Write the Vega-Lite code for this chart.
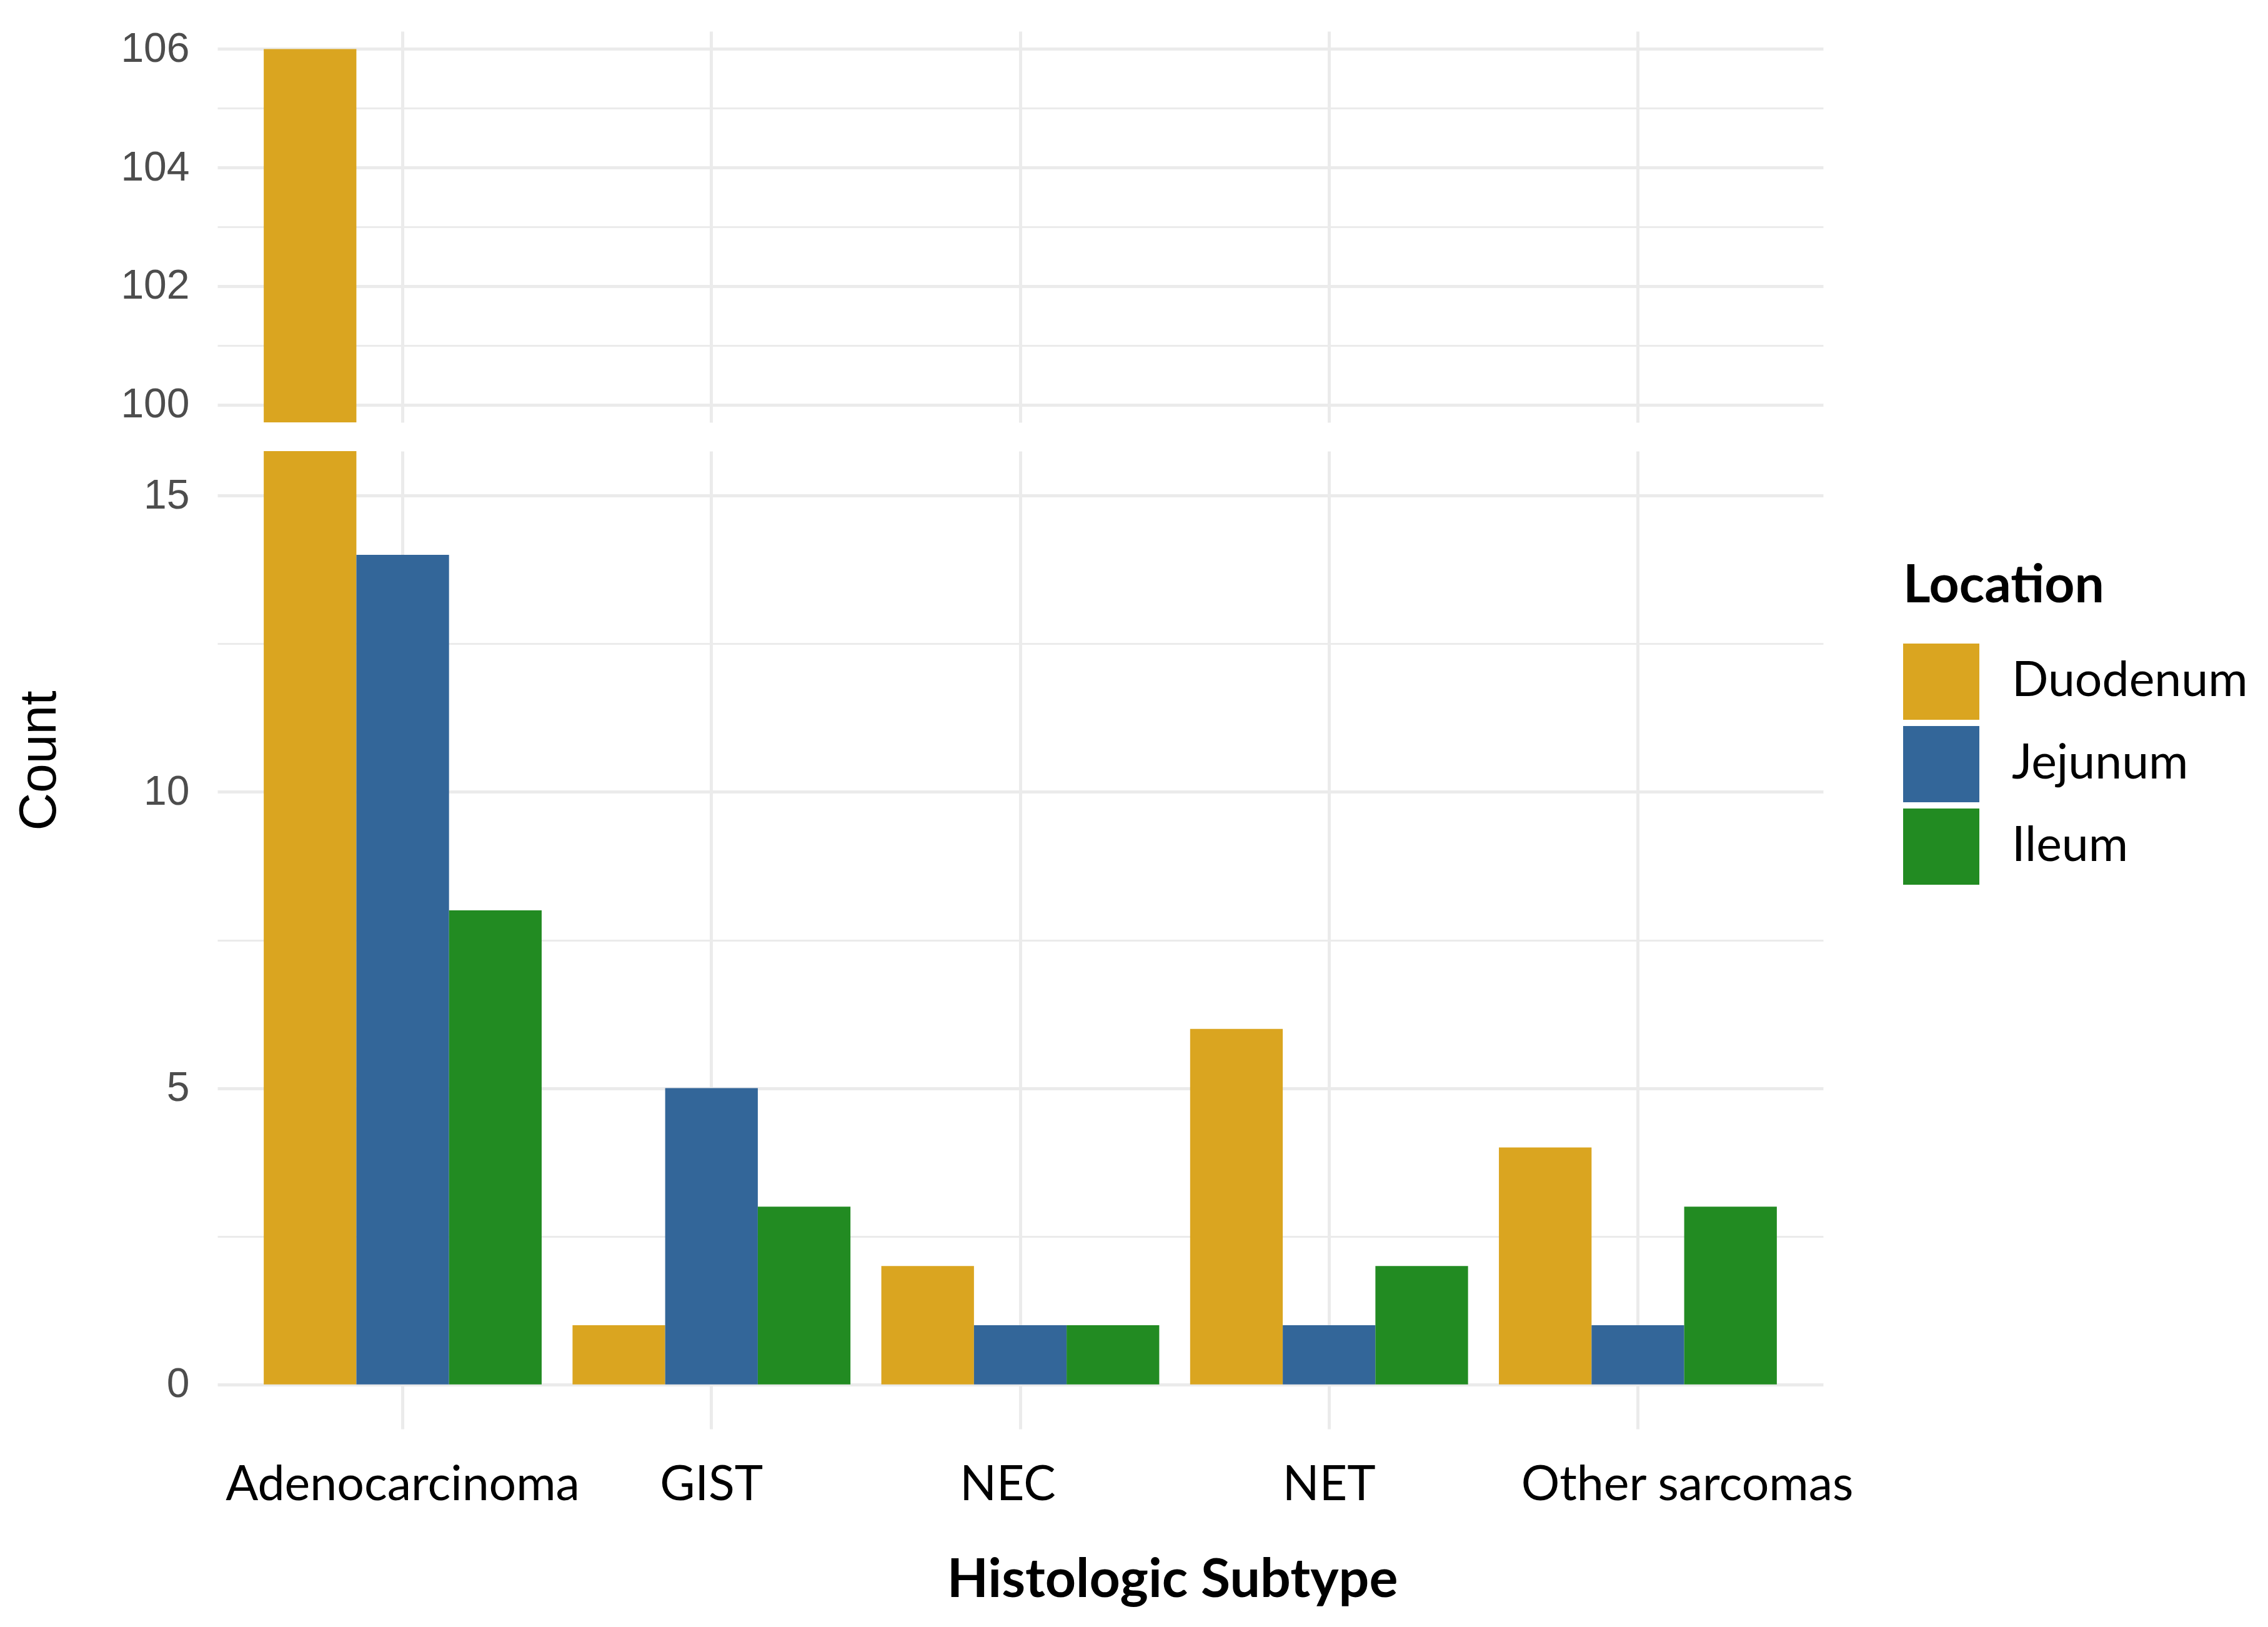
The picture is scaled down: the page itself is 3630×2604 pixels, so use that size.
{
  "$schema": "https://vega.github.io/schema/vega-lite/v6.json",
  "background": "white",
  "padding": {"left": 21, "top": 45, "right": 0, "bottom": 0},
  "data": {
    "values": [
      {"Subtype": "Adenocarcinoma", "Location": "Duodenum", "Count": 106},
      {"Subtype": "Adenocarcinoma", "Location": "Jejunum", "Count": 14},
      {"Subtype": "Adenocarcinoma", "Location": "Ileum", "Count": 8},
      {"Subtype": "GIST", "Location": "Duodenum", "Count": 1},
      {"Subtype": "GIST", "Location": "Jejunum", "Count": 5},
      {"Subtype": "GIST", "Location": "Ileum", "Count": 3},
      {"Subtype": "NEC", "Location": "Duodenum", "Count": 2},
      {"Subtype": "NEC", "Location": "Jejunum", "Count": 1},
      {"Subtype": "NEC", "Location": "Ileum", "Count": 1},
      {"Subtype": "NET", "Location": "Duodenum", "Count": 6},
      {"Subtype": "NET", "Location": "Jejunum", "Count": 1},
      {"Subtype": "NET", "Location": "Ileum", "Count": 2},
      {"Subtype": "Other sarcomas", "Location": "Duodenum", "Count": 4},
      {"Subtype": "Other sarcomas", "Location": "Jejunum", "Count": 1},
      {"Subtype": "Other sarcomas", "Location": "Ileum", "Count": 3}
    ]
  },
  "config": {
    "view": {"stroke": null},
    "axis": {
      "domain": false,
      "ticks": false,
      "tickSize": 0,
      "gridColor": "#ebebeb",
      "labelFont": "Liberation Sans",
      "labelFontSize": 66,
      "labelColor": "#4d4d4d",
      "labelLimit": 1000
    },
    "legend": {
      "orient": "none",
      "legendX": 2698,
      "legendY": 848,
      "padding": 0,
      "titleFont": "Lato",
      "titleFontWeight": "bold",
      "titleFontSize": 84,
      "titleColor": "black",
      "titlePadding": 48,
      "titleLimit": 1000,
      "labelFont": "Lato",
      "labelFontSize": 77,
      "labelColor": "black",
      "labelOffset": 52,
      "labelLimit": 1000,
      "symbolType": "square",
      "symbolSize": 14884,
      "symbolStrokeWidth": 0,
      "symbolOpacity": 1,
      "rowPadding": 10
    }
  },
  "resolve": {"scale": {"y": "independent"}},
  "spacing": 41,
  "vconcat": [
    {
      "width": 2570,
      "height": 626,
      "mark": {"type": "bar", "clip": true},
      "encoding": {
        "x": {
          "field": "Subtype",
          "type": "nominal",
          "scale": {"paddingInner": 0.1, "paddingOuter": 0.15},
          "axis": {"labels": false, "title": null, "grid": true, "gridWidth": 5}
        },
        "xOffset": {
          "field": "Location",
          "type": "nominal",
          "sort": ["Duodenum", "Jejunum", "Ileum"],
          "scale": {"paddingInner": 0, "paddingOuter": 0}
        },
        "y": {
          "field": "Count",
          "type": "quantitative",
          "scale": {"domain": [99.7, 106.3], "nice": false, "zero": false},
          "axis": {
            "title": null,
            "values": [100, 101, 102, 103, 104, 105, 106],
            "labelExpr": "datum.value % 2 == 0 ? datum.label : ''",
            "labelPadding": 45,
            "gridWidth": {"condition": {"test": "datum.value % 2 == 0", "value": 5}, "value": 3}
          }
        },
        "color": {
          "field": "Location",
          "type": "nominal",
          "scale": {"domain": ["Duodenum", "Jejunum", "Ileum"], "range": ["#DAA520", "#336699", "#228B22"]},
          "legend": {"title": "Location"}
        }
      }
    },
    {
      "width": 2570,
      "height": 1565,
      "mark": {"type": "bar", "clip": true},
      "encoding": {
        "x": {
          "field": "Subtype",
          "type": "nominal",
          "scale": {"paddingInner": 0.1, "paddingOuter": 0.15},
          "axis": {
            "title": "Histologic Subtype",
            "grid": true,
            "gridWidth": 5,
            "labelAngle": 0,
            "labelFont": "Lato",
            "labelFontSize": 77,
            "labelColor": "black",
            "labelPadding": 52,
            "labelLimit": 1000,
            "labelOffset": {"condition": [{"test": "datum.value === 'Other sarcomas'", "value": 79}, {"test": "datum.value === 'NEC'", "value": -20}], "value": 0},
            "titleFont": "Lato",
            "titleFontWeight": "bold",
            "titleFontSize": 86,
            "titleColor": "black",
            "titleX": 1528,
            "titleY": 268,
            "titleBaseline": "alphabetic",
            "titleAlign": "center"
          }
        },
        "xOffset": {
          "field": "Location",
          "type": "nominal",
          "sort": ["Duodenum", "Jejunum", "Ileum"],
          "scale": {"paddingInner": 0, "paddingOuter": 0}
        },
        "y": {
          "field": "Count",
          "type": "quantitative",
          "scale": {"domain": [-0.75, 15.75], "nice": false},
          "axis": {
            "title": "Count",
            "values": [0, 2.5, 5, 7.5, 10, 12.5, 15],
            "labelExpr": "datum.value % 5 == 0 ? datum.label : ''",
            "labelPadding": 45,
            "gridWidth": {"condition": {"test": "datum.value % 5 == 0", "value": 5}, "value": 3},
            "titleFont": "Liberation Sans",
            "titleFontWeight": "normal",
            "titleFontSize": 84,
            "titleColor": "black",
            "titleAngle": -90,
            "titleX": -260,
            "titleY": 495,
            "titleBaseline": "alphabetic",
            "titleAlign": "center"
          }
        },
        "color": {
          "field": "Location",
          "type": "nominal",
          "scale": {"domain": ["Duodenum", "Jejunum", "Ileum"], "range": ["#DAA520", "#336699", "#228B22"]},
          "legend": {"title": "Location"}
        }
      }
    }
  ]
}
